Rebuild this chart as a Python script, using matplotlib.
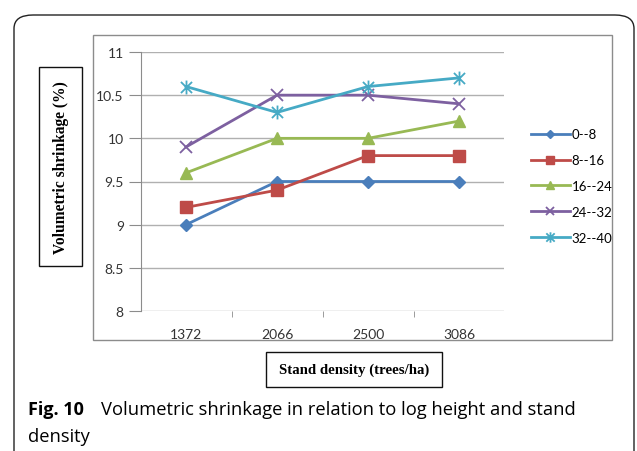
import matplotlib
matplotlib.use("Agg")
import matplotlib.pyplot as plt
from matplotlib.patches import FancyBboxPatch, Rectangle
from matplotlib.path import Path

categories = ["1372", "2066", "2500", "3086"]
series_names = ["0--8", "8--16", "16--24", "24--32", "32--40"]
s0_8 = [9.0, 9.5, 9.5, 9.5]
s8_16 = [9.2, 9.4, 9.8, 9.8]
s16_24 = [9.6, 10.0, 10.0, 10.2]
s24_32 = [9.9, 10.5, 10.5, 10.4]
s32_40 = [10.6, 10.3, 10.6, 10.7]
y_ticks = [8, 8.5, 9, 9.5, 10, 10.5, 11]
y_tick_labels = ["8", "8.5", "9", "9.5", "10", "10.5", "11"]

W, H = 637, 452
fig = plt.figure(figsize=(W / 100, H / 100), dpi=100)

def fx(px):
    return px / W

def fy(py):
    return 1 - py / H

# outer rounded frame
outer = FancyBboxPatch((fx(14), fy(470)), fx(620), (470 - 16) / H,
                       boxstyle="round,pad=0,rounding_size=0.03",
                       transform=fig.transFigure, fill=False,
                       edgecolor="#222222", linewidth=1.0, clip_on=False)
fig.patches.append(outer)

# inner chart frame
inner = Rectangle((fx(93), fy(341)), fx(612 - 93), (341 - 36) / H,
                  transform=fig.transFigure, fill=False,
                  edgecolor="#8c8c8c", linewidth=1.0)
fig.patches.append(inner)

# axis label boxes
ybox = Rectangle((fx(39), fy(267)), fx(82 - 39), (267 - 68) / H,
                 transform=fig.transFigure, fill=False,
                 edgecolor="#111111", linewidth=1.0)
fig.patches.append(ybox)
xbox = Rectangle((fx(266), fy(388)), fx(442 - 266), (388 - 353) / H,
                 transform=fig.transFigure, fill=False,
                 edgecolor="#111111", linewidth=1.0)
fig.patches.append(xbox)

fig.text(fx(61), fy(167.5), "Volumetric shrinkage (%)", rotation=90,
         ha="center", va="center", family="Liberation Serif",
         fontweight="bold", fontsize=11.2)
fig.text(fx(354), fy(370.5), "Stand density (trees/ha)",
         ha="center", va="center", family="Liberation Serif",
         fontweight="bold", fontsize=10.7)

ax = fig.add_axes([fx(140.5), fy(312), fx(504.5 - 140.5), (312 - 53) / H])
x = list(range(len(categories)))

asterisk = Path([(0, -1), (0, 1), (-0.8, -0.8), (0.8, 0.8), (-0.8, 0.8), (0.8, -0.8)],
                [Path.MOVETO, Path.LINETO, Path.MOVETO, Path.LINETO, Path.MOVETO, Path.LINETO])

colors = ["#4A7EBB", "#BE4B48", "#98B954", "#7D60A0", "#46AAC5"]
markers = ["D", "s", "^", "x", asterisk]
msizes = [6, 8, 8, 8, 10]
data = [s0_8, s8_16, s16_24, s24_32, s32_40]

handles = []
for name, vals, c, m, ms in zip(series_names, data, colors, markers, msizes):
    filled = m in ("D", "s", "^")
    ln, = ax.plot(x, vals, color=c, linewidth=2.0, marker=m, markersize=ms,
                  markerfacecolor=c, markeredgecolor=c,
                  markeredgewidth=1.0 if filled else 1.3, label=name,
                  zorder=3, clip_on=False)
    handles.append(ln)

ax.set_xlim(-0.5, len(categories) - 0.5)
ax.set_ylim(8, 11)
ax.set_yticks(y_ticks)
ax.set_yticklabels(y_tick_labels)
ax.set_xticks(x)
ax.set_xticklabels(categories)
ax.set_xticks([i + 0.5 for i in range(len(categories) - 1)], minor=True)
ax.tick_params(axis="x", which="major", length=0, pad=12)
ax.tick_params(axis="x", which="minor", length=4, direction="out", color="#8c8c8c")
ax.tick_params(axis="y", length=9, direction="out", color="#8c8c8c", pad=3)
for lab in ax.get_xticklabels() + ax.get_yticklabels():
    lab.set_family("Lato")
    lab.set_fontsize(10)
    lab.set_color("#333333")

ax.grid(axis="y", color="#b0b0b0", linewidth=1.0)
ax.set_axisbelow(True)
for s in ["top", "right", "bottom"]:
    ax.spines[s].set_visible(False)
ax.spines["left"].set_color("#8c8c8c")
ax.spines["left"].set_bounds(8, 11)

leg = fig.legend(handles=handles, loc="upper left",
                 bbox_to_anchor=(fx(526), fy(124)), frameon=False,
                 prop={"family": "Lato", "size": 9.5}, handlelength=2.9,
                 handletextpad=0.15, labelspacing=1.05, borderaxespad=0)
for h in leg.legend_handles:
    h.set_markersize(h.get_markersize() * 0.75)

fig.text(fx(28), fy(410), "Fig. 10", family="Open Sans", fontweight="bold",
         fontsize=13, va="center", ha="left")
fig.text(fx(101), fy(410), "Volumetric shrinkage in relation to log height and stand",
         family="Open Sans", fontsize=13.2, va="center", ha="left")
fig.text(fx(28), fy(437), "density", family="Open Sans", fontsize=13.2,
         va="center", ha="left")

fig.savefig("out.png", dpi=100)
